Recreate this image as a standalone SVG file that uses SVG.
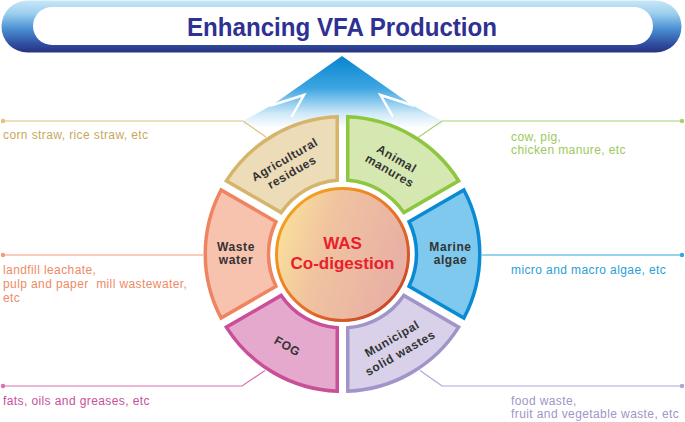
<svg xmlns="http://www.w3.org/2000/svg" width="685" height="422" viewBox="0 0 685 422">
  <defs>
    <linearGradient id="gBanner" x1="0" y1="0" x2="0" y2="1">
      <stop offset="0" stop-color="#c8e7f7"/>
      <stop offset="0.25" stop-color="#9ccfee"/>
      <stop offset="0.55" stop-color="#4a8fd2"/>
      <stop offset="0.85" stop-color="#2f4b9e"/>
      <stop offset="1" stop-color="#29337f"/>
    </linearGradient>
    <linearGradient id="gArrow" gradientUnits="userSpaceOnUse" x1="0" y1="56" x2="0" y2="128">
      <stop offset="0" stop-color="#0684cf"/>
      <stop offset="0.45" stop-color="#3ea6e2"/>
      <stop offset="0.8" stop-color="#cfe9f8"/>
      <stop offset="1" stop-color="#ffffff"/>
    </linearGradient>
    <linearGradient id="gCore" x1="0" y1="0" x2="1" y2="0.3">
      <stop offset="0" stop-color="#fde79a"/>
      <stop offset="0.45" stop-color="#f0c3a0"/>
      <stop offset="1" stop-color="#e9b0a4"/>
    </linearGradient>
    <linearGradient id="gCoreRim" x1="0" y1="0" x2="1" y2="1">
      <stop offset="0" stop-color="#f7b21c"/>
      <stop offset="0.5" stop-color="#e9762a"/>
      <stop offset="1" stop-color="#bf3a26"/>
    </linearGradient>
    <style>
      .seg { stroke-width: 3.5; stroke-linejoin: miter; }
      .seglbl { font-family: "Liberation Sans", Arial, sans-serif; font-weight: bold; font-size: 12px; letter-spacing: 0.6px; fill: #333333; text-anchor: middle; }
      .side { font-family: "Liberation Sans", Arial, sans-serif; font-size: 12px; letter-spacing: 0.4px; }
      .lead { fill: none; stroke-width: 1.2; }
      .core { font-family: "Liberation Sans", Arial, sans-serif; font-weight: bold; font-size: 17px; fill: #e8202a; text-anchor: middle; }
    </style>
  </defs>

  <g id="title">
    <rect x="1.5" y="0.5" width="680" height="52" rx="26" fill="url(#gBanner)"/>
    <rect x="33" y="7" width="620" height="38" rx="19" fill="#ffffff"/>
    <text x="342" y="36" font-family="'Liberation Sans', Arial, sans-serif" font-weight="bold" font-size="26" fill="#2e3192" text-anchor="middle" textLength="310" lengthAdjust="spacingAndGlyphs">Enhancing VFA Production</text>
  </g>

  <g id="arrow">
    <polygon points="342,56 411.7,105 442,121 442,140 243,140 243,121 272.3,105" fill="url(#gArrow)"/>
    <g stroke="#ffffff" stroke-width="2.5" fill="none" stroke-linecap="round">
      <polyline points="271,105.5 304,95 292,116"/>
      <polyline points="413,105.5 380.5,95 392.5,116"/>
    </g>
  </g>

  <g id="connectors">
    <polyline class="lead" stroke="#e0c27a" points="3,121 243,121 266,137"/>
    <circle cx="3" cy="121" r="2.2" fill="#e0c27a"/>
    <polyline class="lead" stroke="#f39a7c" points="3,255 203,255"/>
    <circle cx="3" cy="255" r="2.2" fill="#f39a7c"/>
    <polyline class="lead" stroke="#d870b0" points="3,386 242,386 265,370.5"/>
    <circle cx="3" cy="386" r="2.2" fill="#d870b0"/>
    <polyline class="lead" stroke="#a8d070" points="682,121 442,121 418,137.5"/>
    <circle cx="682" cy="121" r="2.2" fill="#a8d070"/>
    <polyline class="lead" stroke="#30a8e0" points="482,255 682,255"/>
    <circle cx="682" cy="255" r="2.2" fill="#30a8e0"/>
    <polyline class="lead" stroke="#b0a4d4" points="682,386 442,386 420,370.5"/>
    <circle cx="682" cy="386" r="2.2" fill="#b0a4d4"/>
  </g>

  <g id="seg-agricultural">
    <path class="seg" fill="#eddcb8" stroke="#d6b46c" d="M337.25,116.85 A137.25,137.25 0 0 0 226.35,180.88 L281.2,212.55 A74,74 0 0 1 337.25,180.19 Z"/>
    <g transform="translate(288.2,165.7) rotate(-30)">
      <text class="seglbl" x="0" y="-3">Agricultural</text>
      <text class="seglbl" x="0" y="11.5">residues</text>
    </g>
  </g>

  <g id="seg-animal">
    <path class="seg" fill="#d6e8b2" stroke="#8dc63f" d="M458.65,180.88 A137.25,137.25 0 0 0 347.75,116.85 L347.75,180.19 A74,74 0 0 1 403.8,212.55 Z"/>
    <g transform="translate(393.3,164.6) rotate(30)">
      <text class="seglbl" x="0" y="-2.7">Animal</text>
      <text class="seglbl" x="0" y="11.3">manures</text>
    </g>
  </g>

  <g id="seg-wastewater">
    <path class="seg" fill="#f7c2ae" stroke="#ef8560" d="M221.1,189.97 A137.25,137.25 0 0 0 221.1,318.03 L275.95,286.36 A74,74 0 0 1 275.95,221.64 Z"/>
    <text class="seglbl" x="236" y="251">Waste</text>
    <text class="seglbl" x="236" y="264">water</text>
  </g>

  <g id="seg-marine">
    <path class="seg" fill="#80c9ee" stroke="#0a8ad2" d="M463.9,318.03 A137.25,137.25 0 0 0 463.9,189.97 L409.05,221.64 A74,74 0 0 1 409.05,286.36 Z"/>
    <text class="seglbl" x="450.5" y="251">Marine</text>
    <text class="seglbl" x="450.5" y="264">algae</text>
  </g>

  <g id="seg-fog">
    <path class="seg" fill="#e5a9cd" stroke="#c94f98" d="M226.35,327.12 A137.25,137.25 0 0 0 337.25,391.15 L337.25,327.81 A74,74 0 0 1 281.2,295.45 Z"/>
    <g transform="translate(287.5,346) rotate(30)">
      <text class="seglbl" x="0" y="4.3">FOG</text>
    </g>
  </g>

  <g id="seg-municipal">
    <path class="seg" fill="#d9d1e9" stroke="#a194c9" d="M347.75,391.15 A137.25,137.25 0 0 0 458.65,327.12 L403.8,295.45 A74,74 0 0 1 347.75,327.81 Z"/>
    <g transform="translate(396,345.7) rotate(-30)">
      <text class="seglbl" x="0" y="-3.9">Municipal</text>
      <text class="seglbl" x="0" y="12.5">solid wastes</text>
    </g>
  </g>

  <g id="core">
    <circle cx="342.5" cy="254.5" r="66" fill="url(#gCore)" stroke="url(#gCoreRim)" stroke-width="3"/>
    <text class="core" x="342.5" y="249.3">WAS</text>
    <text class="core" x="342.5" y="269.3">Co-digestion</text>
  </g>

  <g id="desc-agricultural">
    <text class="side" x="3" y="139.3" fill="#c9a85c">corn straw, rice straw, etc</text>
  </g>
  <g id="desc-wastewater">
    <text class="side" fill="#ee8a66" xml:space="preserve"><tspan x="3" y="274.3">landfill leachate,</tspan><tspan x="3" y="288">pulp and paper  mill wastewater,</tspan><tspan x="3" y="301.5">etc</tspan></text>
  </g>
  <g id="desc-fog">
    <text class="side" x="3" y="405" fill="#c8509a">fats, oils and greases, etc</text>
  </g>
  <g id="desc-animal">
    <text class="side" fill="#9ec85a"><tspan x="511" y="140.5">cow, pig,</tspan><tspan x="511" y="154">chicken manure, etc</tspan></text>
  </g>
  <g id="desc-marine">
    <text class="side" x="511" y="274.3" fill="#2a9ed8">micro and macro algae, etc</text>
  </g>
  <g id="desc-municipal">
    <text class="side" fill="#a095c8"><tspan x="511" y="404.5">food waste,</tspan><tspan x="511" y="418">fruit and vegetable waste, etc</tspan></text>
  </g>
</svg>
